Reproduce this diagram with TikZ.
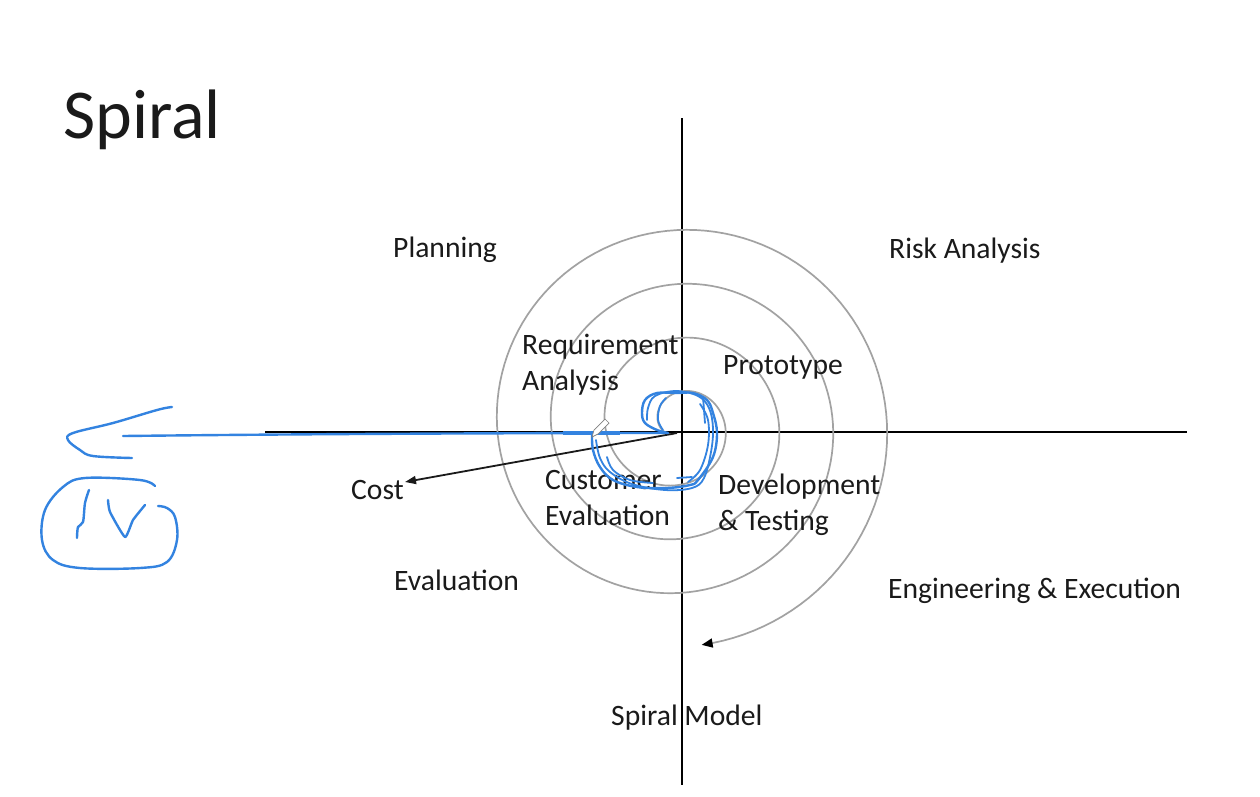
\documentclass[tikz,border=0pt]{standalone}
\usepackage{fontspec}
\setmainfont{Carlito}
\usetikzlibrary{arrows.meta}
\definecolor{txt}{HTML}{1A1A1A}
\definecolor{spir}{HTML}{A2A2A2}
\definecolor{pen}{HTML}{3383E0}
\tikzset{
  lbl/.style={font={\fontsize{29.6}{35}\selectfont}, text=txt, inner sep=0pt, anchor=base west},
  axis/.style={line width=2pt, black},
  ink/.style={pen, line width=2.4pt, line cap=round, line join=round},
  thinink/.style={pen, line width=1.8pt, line cap=round, line join=round}
}
\begin{document}
\begin{tikzpicture}[x=1pt,y=-1pt]
\useasboundingbox[fill=white] (0,0) rectangle (1260,796);

% title
\node[lbl, font={\fontsize{70}{82}\selectfont}] (title) at (63,138) {Spiral};

% axes
\coordinate (vTop) at (682,118);
\coordinate (vBot) at (682,785);
\coordinate (hL) at (265,432);
\coordinate (hR) at (1187,432);
\draw[axis] (vTop) -- (vBot);
\draw[axis] (hL) -- (hR);

% spiral
\draw[spir, line width=1.7pt, -{Triangle[length=11pt,width=9pt,color=black]}]
  plot[domain=-240:1164, samples=500, variable=\t]
  ({678.5+(46.5+0.15*\t)*cos(\t)},{425+(46.5+0.15*\t)*sin(\t)});

% labels
\node[lbl] (plan) at (393,257) {Planning};
\node[lbl] (risk) at (889,258) {Risk Analysis};
\node[lbl] (eng) at (888,598) {Engineering \& Execution};
\node[lbl] (evalq) at (394,590) {Evaluation};
\node[lbl] (model) at (611,725) {Spiral Model};
\node[lbl] (req1) at (522,354) {Requirement};
\node[lbl] (req2) at (522,390) {Analysis};
\node[lbl] (proto) at (723,374) {Prototype};
\node[lbl] (cust1) at (545,489) {Customer};
\node[lbl] (cust2) at (545,525) {Evaluation};
\node[lbl] (dev1) at (718,494) {Development};
\node[lbl] (dev2) at (718,530) {\& Testing};
\node[lbl] (cost) at (351,499) {Cost};

% cost arrow
\coordinate (costStart) at (677,433);
\coordinate (costTip) at (405,482);
\draw[txt, line width=1.8pt, -{Triangle[length=11pt,width=8pt]}] (costStart) -- (costTip);

% blue annotations
\coordinate (inkL) at (123,436);
\coordinate (inkR) at (667,433);
\draw[ink] (inkL) .. controls (300,434) and (500,433) .. (inkR);
\draw[pen, line width=4pt] (563,433) -- (620,433);
% arrow head stroke
\draw[ink] plot[smooth, tension=0.6] coordinates {(172,407) (157,410) (113,423) (73,433) (68,440) (80,450) (93,456) (132,458)};
% loop around IV
\draw[ink] plot[smooth, tension=0.6] coordinates {(155,486) (140,480) (85,478) (63,487) (45,510) (42,540) (53,560) (80,568) (140,568) (167,562) (177,540) (175,517) (167,508) (158,506)};
% I
\draw[ink] plot[smooth, tension=0.5] coordinates {(89,490) (85,503) (83,522) (78,527) (77,538)};
% V
\draw[ink] plot[smooth, tension=0.3] coordinates {(108,500) (110,512) (125,537) (133,520) (145,505)};
% scribble loop
\draw[ink] plot[smooth, tension=0.6] coordinates {(592,433) (593,450) (600,467) (613,480) (637,487) (667,488) (690,485) (698,480) (713,457) (717,433) (713,413) (707,400) (693,393) (677,393) (657,393) (645,400) (642,413) (645,423) (657,430) (668,433)};
\draw[thinink] plot[smooth, tension=0.6] coordinates {(596,440) (600,458) (610,472) (632,484) (665,490) (692,488) (704,478) (711,452) (713,428) (709,408) (698,396) (676,391) (655,396) (648,408) (647,420)};
\draw[thinink] plot[smooth, tension=0.6] coordinates {(607,457) (613,470) (630,480) (653,483)};
\draw[thinink] plot[smooth, tension=0.6] coordinates {(666,398) (660,406) (658,420) (663,430)};
\draw[thinink] (703,397) -- (705,423);
\draw[thinink] (677,478) -- (692,477);
\draw[thinink] plot[smooth, tension=0.6] coordinates {(700,404) (708,420) (708,445) (700,470) (688,482)};

% pen cursor
\draw[gray, fill=white, line width=0.7pt] (592,437) -- (594,430) -- (605,419) -- (609,423) -- (598,434) -- cycle;
\end{tikzpicture}
\end{document}
